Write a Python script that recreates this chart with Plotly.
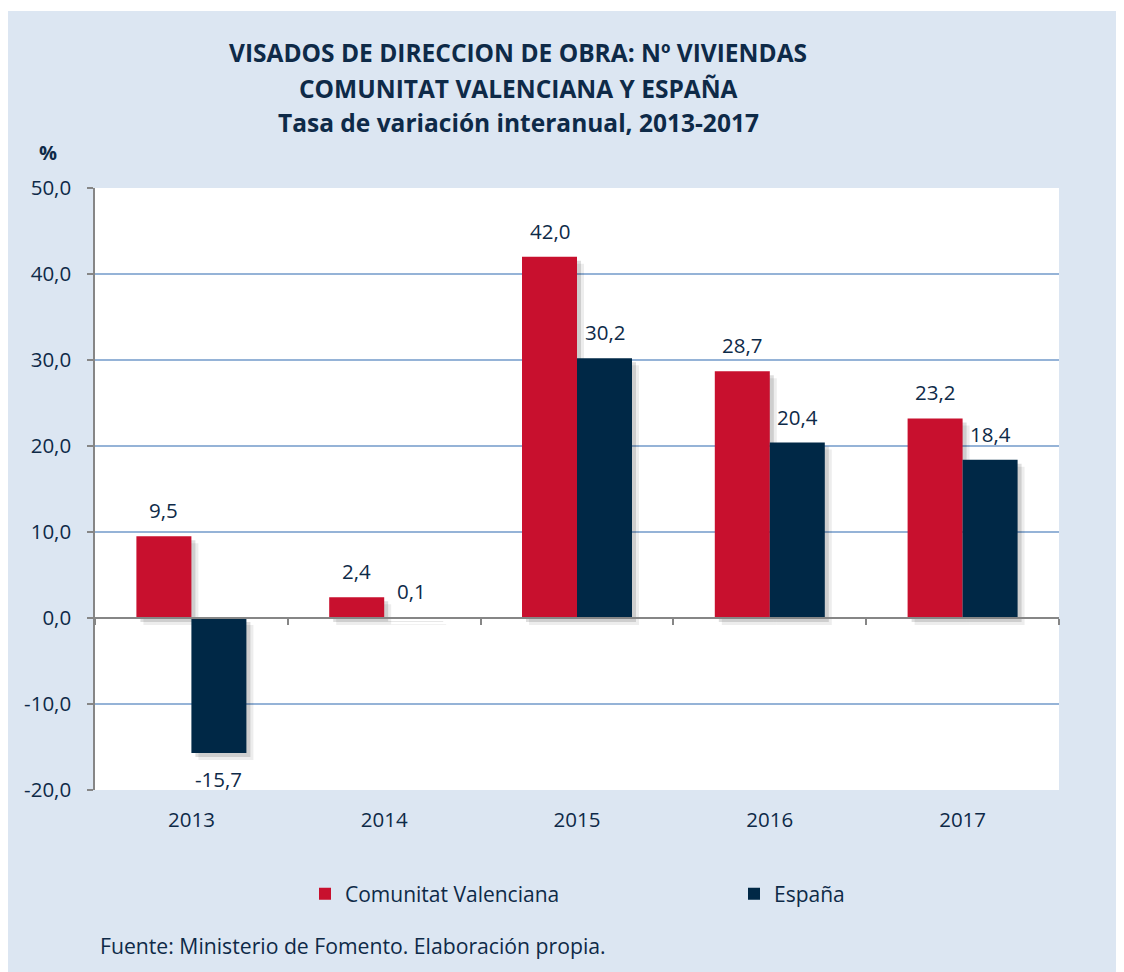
import plotly.graph_objects as go

years = ["2013", "2014", "2015", "2016", "2017"]
cv_values = [9.5, 2.4, 42.0, 28.7, 23.2]
es_values = [-15.7, 0.1, 30.2, 20.4, 18.4]
series_names = ["Comunitat Valenciana", "España"]
y_ticks = [-20, -10, 0, 10, 20, 30, 40, 50]
title_lines = ["VISADOS DE DIRECCION DE OBRA: Nº VIVIENDAS",
               "COMUNITAT VALENCIANA Y ESPAÑA",
               "Tasa de variación interanual, 2013-2017"]
source_text = "Fuente: Ministerio de Fomento. Elaboración propia."

RED = "#C8102E"
NAVY = "#002846"
TXT = "#0E2A48"
BG = "#DCE6F2"
GRID = "#95B3D7"
AXIS = "#868686"
FONT = "Open Sans"

W, H = 1116, 964
L, R, T, B = 87, 65, 180, 182
pw = W - L - R
ph = H - T - B

def fmt(v):
    return f"{v:.1f}".replace(".", ",")

xs = list(range(len(years)))
BW = 55 / (pw / len(years))          # bar width in category units
px_x = 1 / (pw / len(years))         # one pixel in x units
px_y = 70 / ph                       # one pixel in y units

fig = go.Figure()

# soft drop shadows (translated copies of the bars)
for vals, off in [(cv_values, -BW), (es_values, 0.0)]:
    for d, a in [(7, 0.07), (4, 0.13)]:
        fig.add_trace(go.Bar(x=xs, y=vals, base=[-d * px_y] * len(vals),
                             offset=off + d * px_x, width=BW,
                             marker=dict(color=f"rgba(0,0,0,{a})", line_width=0),
                             showlegend=False, hoverinfo="skip"))

fig.add_trace(go.Bar(x=xs, y=cv_values, name=series_names[0], offset=-BW, width=BW,
                     marker=dict(color=RED, line_width=0), legend="legend"))
fig.add_trace(go.Bar(x=xs, y=es_values, name=series_names[1], offset=0.0, width=BW,
                     marker=dict(color=NAVY, line_width=0), legend="legend2"))
# invisible trace on overlay axis: zero-line category axis with boundary ticks
fig.add_trace(go.Scatter(x=xs, y=[0] * len(xs), xaxis="x2", mode="markers",
                         marker=dict(opacity=0), showlegend=False, hoverinfo="skip"))

# value labels
for vals, off in [(cv_values, -BW / 2), (es_values, BW / 2)]:
    for i, v in enumerate(vals):
        fig.add_annotation(x=xs[i] + off, y=v, text=fmt(v), showarrow=False,
                           xanchor="center", yanchor="middle",
                           yshift=26 if v >= 0 else -26,
                           font=dict(size=20.5, color=TXT, family=FONT))

leg_common = dict(orientation="h", yanchor="middle", xanchor="left",
                  font=dict(size=21, color=TXT, family=FONT),
                  bgcolor="rgba(0,0,0,0)", borderwidth=0)
leg_y = -(886 - (T + ph)) / ph

fig.update_layout(
    width=W, height=H,
    margin=dict(l=L, r=R, t=T, b=B),
    paper_bgcolor=BG, plot_bgcolor="white",
    font=dict(family=FONT, color=TXT, size=20.5),
    barmode="overlay",
    showlegend=True,
    legend=dict(x=(297 - L) / pw, y=leg_y, **leg_common),
    legend2=dict(x=(726 - L) / pw, y=leg_y, **leg_common),
    xaxis=dict(range=[-0.5, len(years) - 0.5], tickvals=xs, ticktext=years,
               showgrid=False, showline=False, ticks="", zeroline=False,
               tickfont=dict(size=20.5, color=TXT), ticklabelstandoff=15),
    xaxis2=dict(range=[-0.5, len(years) - 0.5], overlaying="x", anchor="free",
                position=20 / 70, side="bottom", showgrid=False, zeroline=False,
                showline=True, linecolor=AXIS, linewidth=1.5,
                tickvals=[i - 0.5 for i in range(len(years) + 1)],
                ticks="outside", ticklen=6, tickcolor=AXIS, tickwidth=1.5,
                showticklabels=False),
    yaxis=dict(range=[-20, 50], tickvals=y_ticks, ticktext=[fmt(v) for v in y_ticks],
               showgrid=True, gridcolor=GRID, gridwidth=1.5, zeroline=False,
               showline=True, linecolor=AXIS, linewidth=1.5, ticks="outside",
               ticklen=6, tickcolor=AXIS, tickwidth=1.5,
               tickfont=dict(size=20.5, color=TXT), ticklabelstandoff=12),
)

# thin white page strip at the top, like the reference
fig.add_shape(type="rect", xref="paper", yref="paper",
              x0=-L / pw - 0.01, x1=1 + R / pw + 0.01, y0=1 + (T - 3) / ph, y1=1 + T / ph + 0.01,
              fillcolor="white", line_width=0, layer="below")

cx = (510 - L) / pw
for line, ypx in zip(title_lines, [44, 80, 114]):
    fig.add_annotation(text=f"<b>{line}</b>", xref="paper", yref="paper",
                       x=cx, y=1 + (T - ypx) / ph, xanchor="center", yanchor="middle",
                       showarrow=False, font=dict(size=24.5, color=TXT, family=FONT))

fig.add_annotation(text="<b>%</b>", xref="paper", yref="paper",
                   x=(40 - L) / pw, y=1 + (T - 144) / ph, xanchor="center", yanchor="middle",
                   showarrow=False, font=dict(size=20, color=TXT, family=FONT))

fig.add_annotation(text=source_text, xref="paper", yref="paper",
                   x=(90 - L) / pw, y=-(937 - (T + ph)) / ph, xanchor="left", yanchor="middle",
                   showarrow=False, font=dict(size=21.2, color=TXT, family=FONT))

fig.write_html("out.html")
